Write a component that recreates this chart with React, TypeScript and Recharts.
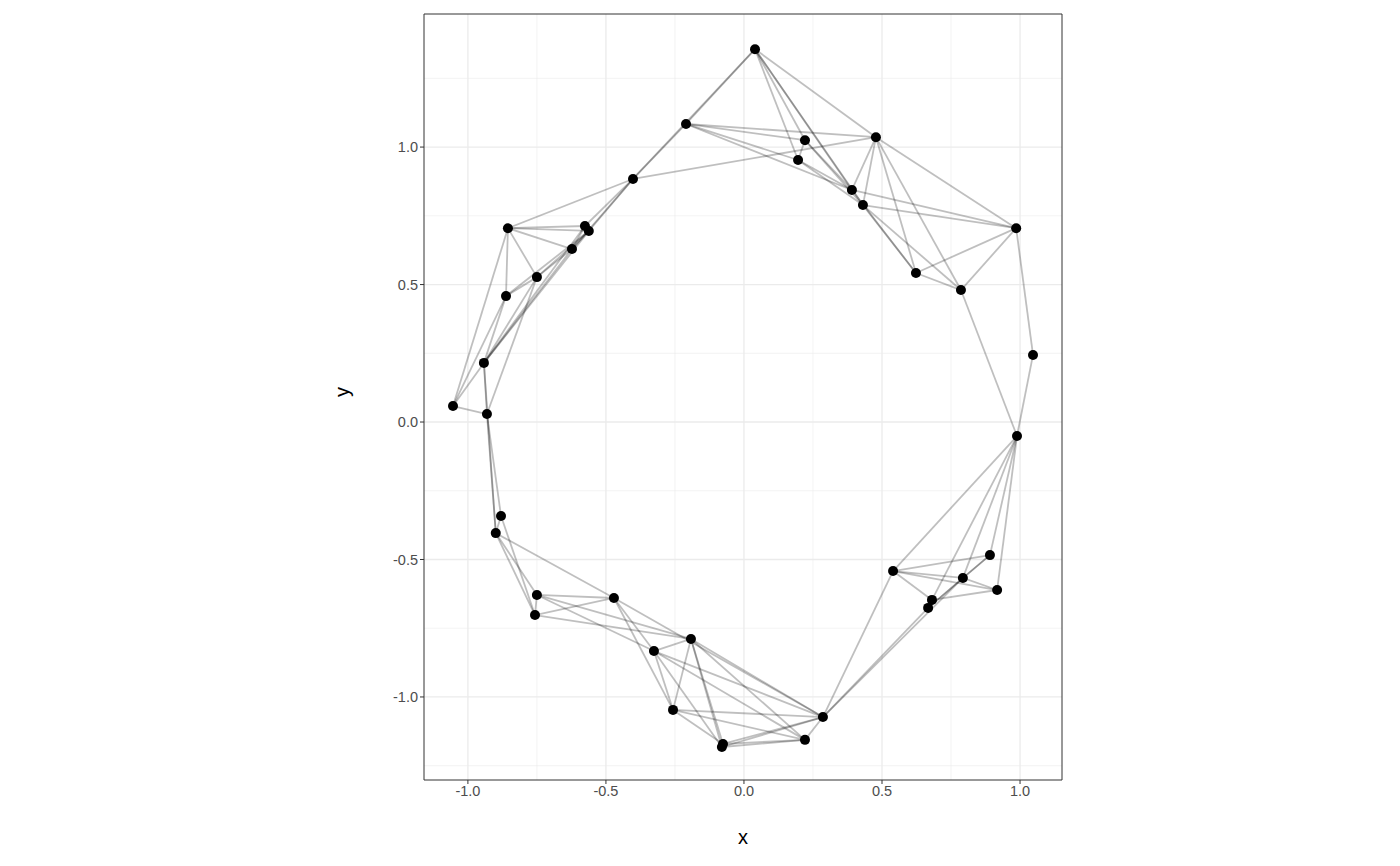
import React from "react";
import {
  ScatterChart,
  Scatter,
  XAxis,
  YAxis,
  CartesianGrid,
  ReferenceLine,
  ReferenceArea,
} from "recharts";

const nodeX = [
  0.04, -0.21, -0.402, 0.221, 0.196, 0.478, 0.391, 0.431, 0.623, 0.786,
  0.986, 1.047, 0.989, 0.891, 0.917, 0.793, 0.681, 0.667, 0.54, 0.286,
  0.221, -0.076, -0.08, -0.257, -0.326, -0.192, -0.471, -0.75, -0.757, -0.899,
  -0.88, -0.931, -1.054, -0.942, -0.862, -0.75, -0.855, -0.623, -0.576, -0.562,
];
const nodeY = [
  1.356, 1.084, 0.884, 1.025, 0.953, 1.036, 0.844, 0.789, 0.542, 0.48,
  0.705, 0.244, -0.051, -0.484, -0.611, -0.567, -0.647, -0.676, -0.542, -1.073,
  -1.156, -1.171, -1.182, -1.047, -0.833, -0.789, -0.64, -0.629, -0.702, -0.404,
  -0.342, 0.029, 0.058, 0.215, 0.458, 0.527, 0.705, 0.629, 0.713, 0.695,
];
// edges, 1-based node ids
const edgeFrom = [
  1, 1, 1, 1, 1, 1, 1, 2, 2, 2, 2, 2, 3, 3, 3, 3, 3,
  4, 4, 4, 5, 5, 6, 6, 6, 6, 6, 7, 7, 8, 8, 8,
  9, 9, 10, 10, 11, 12,
  13, 13, 13, 13, 13, 14, 14, 14, 15, 15, 15, 16, 16, 17, 18, 16, 19,
  20, 20, 20, 20, 20, 20, 20, 21, 21, 21, 21, 21,
  22, 22, 23, 23, 24, 24, 24, 25, 25, 26, 26, 26, 27, 27, 27, 28, 28, 29, 29, 30, 30, 30, 31,
  32, 33, 33, 33, 33, 34, 34, 34, 34, 34, 35, 35, 36, 36, 36, 37, 37, 37, 38, 38, 39, 35, 32,
];
const edgeTo = [
  2, 3, 4, 5, 7, 6, 8, 4, 5, 6, 7, 3, 6, 39, 40, 38, 37,
  5, 8, 7, 7, 8, 7, 8, 9, 10, 11, 11, 9, 9, 10, 11,
  11, 10, 11, 13, 12, 13,
  19, 14, 15, 16, 17, 19, 16, 18, 19, 16, 17, 18, 19, 19, 20, 20, 20,
  21, 22, 23, 24, 26, 27, 25, 22, 23, 26, 24, 25,
  24, 26, 25, 26, 26, 25, 27, 27, 28, 28, 29, 25, 28, 29, 30, 29, 30, 30, 31, 31, 32, 34, 32,
  34, 34, 32, 35, 37, 35, 36, 38, 39, 40, 37, 36, 37, 38, 40, 39, 40, 38, 39, 40, 40, 40, 36,
];

const xTicks = [-1, -0.5, 0, 0.5, 1];
const yTicks = [-1, -0.5, 0, 0.5, 1];
const xMinor = [-0.75, -0.25, 0.25, 0.75];
const yMinor = [-1.25, -0.75, -0.25, 0.25, 0.75, 1.25];

const X_DOMAIN: [number, number] = [-1.159, 1.152];
const Y_DOMAIN: [number, number] = [-1.302, 1.484];

const points = nodeX.map((x, i) => ({ x, y: nodeY[i] }));

const tickStyle = { fontSize: 14.5, fill: "#4D4D4D", fontFamily: "Liberation Sans, Arial, sans-serif" };

export default function App() {
  return (
    <div style={{ margin: -8, fontFamily: "Liberation Sans, Arial, sans-serif" }}>
      <ScatterChart
        width={1400}
        height={866}
        margin={{ top: 14, right: 338, left: 340, bottom: 20 }}
      >
        <CartesianGrid
          verticalValues={xMinor}
          horizontalValues={yMinor}
          stroke="#EBEBEB"
          strokeWidth={0.6}
        />
        <CartesianGrid
          verticalValues={xTicks}
          horizontalValues={yTicks}
          stroke="#EBEBEB"
          strokeWidth={1.3}
        />
        <XAxis
          type="number"
          dataKey="x"
          domain={X_DOMAIN}
          ticks={xTicks}
          allowDataOverflow
          axisLine={false}
          tickLine={{ stroke: "#333" }}
          tickSize={4}
          tick={tickStyle}
          tickFormatter={(v) => v.toFixed(1)}
          height={66}
          label={{ value: "x", position: "insideBottom", offset: 2, fontSize: 20, fill: "#000" }}
        />
        <YAxis
          type="number"
          dataKey="y"
          domain={Y_DOMAIN}
          ticks={yTicks}
          allowDataOverflow
          axisLine={false}
          tickLine={{ stroke: "#333" }}
          tickSize={4}
          tick={tickStyle}
          tickFormatter={(v) => v.toFixed(1)}
          width={84}
          label={{ value: "y", angle: -90, position: "insideLeft", offset: 2, fontSize: 20, fill: "#000" }}
        />
        {edgeFrom.map((a, i) => {
          const b = edgeTo[i];
          return (
            <ReferenceLine
              key={i}
              segment={[
                { x: nodeX[a - 1], y: nodeY[a - 1] },
                { x: nodeX[b - 1], y: nodeY[b - 1] },
              ]}
              stroke="#000"
              strokeOpacity={0.25}
              strokeWidth={1.8}
              ifOverflow="visible"
            />
          );
        })}
        <ReferenceArea
          x1={X_DOMAIN[0]}
          x2={X_DOMAIN[1]}
          y1={Y_DOMAIN[0]}
          y2={Y_DOMAIN[1]}
          fill="none"
          fillOpacity={0}
          stroke="#333"
          strokeWidth={1}
        />
        <Scatter
          data={points}
          fill="#000"
          isAnimationActive={false}
          shape={(p: any) => <circle cx={p.cx} cy={p.cy} r={5} fill="#000" />}
        />
      </ScatterChart>
    </div>
  );
}
